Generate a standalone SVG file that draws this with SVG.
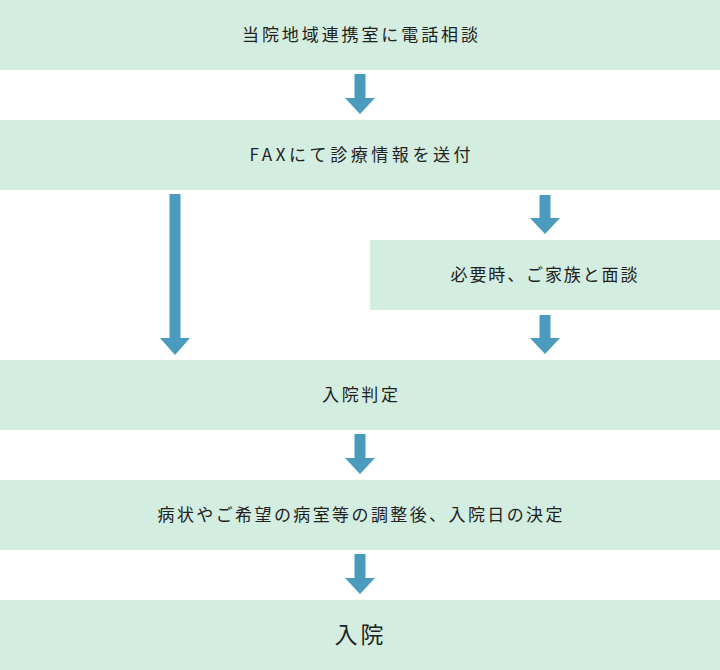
<svg xmlns="http://www.w3.org/2000/svg" width="720" height="670" viewBox="0 0 720 670">
<style>
.box{fill:#d3eee0}
.t{font-family:"Noto Sans CJK JP","Noto Sans",sans-serif;font-size:17px;fill:#222;text-anchor:middle}
.big{font-size:23px}
.arr{fill:#4b9bbf}
</style>
<rect width="720" height="670" fill="#fff"/>
<g id="n1"><rect class="box" x="0" y="0" width="720" height="70"/><text class="t" x="360" y="41" textLength="236" lengthAdjust="spacing">当院地域連携室に電話相談</text></g>
<g id="n2"><rect class="box" x="0" y="120" width="720" height="70"/><text class="t" x="360" y="161" textLength="221" lengthAdjust="spacing">FAXにて診療情報を送付</text></g>
<g id="n3"><rect class="box" x="370" y="240" width="350" height="70"/><text class="t" x="544" y="281" textLength="187" lengthAdjust="spacing">必要時、ご家族と面談</text></g>
<g id="n4"><rect class="box" x="0" y="360" width="720" height="70"/><text class="t" x="360" y="401" textLength="76" lengthAdjust="spacing">入院判定</text></g>
<g id="n5"><rect class="box" x="0" y="480" width="720" height="70"/><text class="t" x="360" y="521" textLength="405" lengthAdjust="spacing">病状やご希望の病室等の調整後、入院日の決定</text></g>
<g id="n6"><rect class="box" x="0" y="600" width="720" height="70"/><text class="t big" x="359" y="643" textLength="49" lengthAdjust="spacing">入院</text></g>
<g id="connectors">
<path class="arr" d="M354.5 74 H365.5 V98 H375 L360 114 L345 98 H354.5 Z"/>
<path class="arr" d="M169.5 194 H180.5 V338 H190 L175 355 L160 338 H169.5 Z"/>
<path class="arr" d="M539.5 195 H550.5 V218 H560 L545 234 L530 218 H539.5 Z"/>
<path class="arr" d="M539.5 315 H550.5 V338 H560 L545 354 L530 338 H539.5 Z"/>
<path class="arr" d="M354.5 434 H365.5 V458 H375 L360 474 L345 458 H354.5 Z"/>
<path class="arr" d="M354.5 554 H365.5 V578 H375 L360 594 L345 578 H354.5 Z"/>
</g>
</svg>
